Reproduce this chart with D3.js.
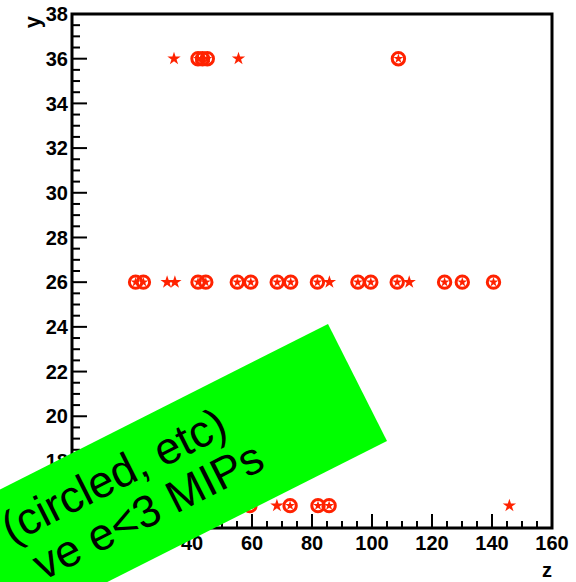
<!DOCTYPE html>
<html><head><meta charset="utf-8">
<script src="https://cdn.jsdelivr.net/npm/d3@7"></script>
<style>html,body{margin:0;padding:0;background:#fff;}svg{display:block;}</style>
</head><body>
<div id="chart"></div>
<script>
// ---- data ----
const xDomain = [0, 160];
const yDomain = [15, 38];
const xMajorTicks = [0, 20, 40, 60, 80, 100, 120, 140, 160];
const yMajorTicks = [16, 18, 20, 22, 24, 26, 28, 30, 32, 34, 36, 38];
const xLabel = "z";
const yLabel = "y";
// hits at y = 36
const row36Y = 36;
const row36Stars = [34.0, 55.5];
const row36Circled = [42.0, 43.5, 45.1, 108.8];
// hits at y = 26
const row26Y = 26;
const row26Stars = [31.7, 34.3, 85.8, 112.4];
const row26Circled = [21.2, 23.8, 42.0, 44.6, 55.1, 59.6, 68.4, 72.9, 81.8, 95.3, 99.6, 108.4, 124.2, 130.1, 140.5];
// hits at y = 16
const row16Y = 16;
const row16Stars = [68.3, 145.8];
const row16Circled = [59.3, 72.7, 82.0, 85.7];
const noteLines = ["(circled, etc)", "ve e<3 MIPs"];

// ---- layout ----
const W = 576, H = 582;
const mLeft = 72, mRight = 552, mTop = 14, mBottom = 528;
const red = "#ff2200";
const svg = d3.select("#chart").append("svg").attr("width", W).attr("height", H);

const x = d3.scaleLinear().domain(xDomain).range([mLeft, mRight]);
const y = d3.scaleLinear().domain(yDomain).range([mBottom, mTop]);

const xMinor = d3.range(xDomain[0], xDomain[1] + 0.01, 5);
const yMinor = d3.range(15.5, 38.01, 0.5);

const g = svg.append("g");
g.selectAll("line.xmin").data(xMinor).join("line")
  .attr("x1", d => x(d)).attr("x2", d => x(d))
  .attr("y1", mBottom).attr("y2", d => xMajorTicks.includes(d) ? mBottom - 14 : mBottom - 7)
  .attr("stroke", "#000").attr("stroke-width", 2);
g.selectAll("line.ymin").data(yMinor).join("line")
  .attr("y1", d => y(d)).attr("y2", d => y(d))
  .attr("x1", mLeft).attr("x2", d => yMajorTicks.includes(d) ? mLeft + 15 : mLeft + 8)
  .attr("stroke", "#000").attr("stroke-width", 2);

svg.append("rect").attr("x", mLeft).attr("y", mTop).attr("width", mRight - mLeft).attr("height", mBottom - mTop)
  .attr("fill", "none").attr("stroke", "#000").attr("stroke-width", 3);

svg.selectAll("text.xl").data(xMajorTicks).join("text")
  .attr("x", d => x(d)).attr("y", mBottom + 22)
  .attr("text-anchor", "middle")
  .attr("font-family", "Liberation Sans, Arial, sans-serif").attr("font-weight", "bold").attr("font-size", 20)
  .text(d => d);
svg.selectAll("text.yl").data(yMajorTicks).join("text")
  .attr("x", mLeft - 4).attr("y", d => y(d)).attr("dy", "0.36em")
  .attr("text-anchor", "end")
  .attr("font-family", "Liberation Sans, Arial, sans-serif").attr("font-weight", "bold").attr("font-size", 20)
  .text(d => d);
svg.append("text").attr("x", mRight).attr("y", 577).attr("text-anchor", "end")
  .attr("font-family", "Liberation Sans, Arial, sans-serif").attr("font-weight", "bold").attr("font-size", 20)
  .text(xLabel);
svg.append("text").attr("transform", `translate(40,${mTop + 2}) rotate(-90)`).attr("text-anchor", "end")
  .attr("font-family", "Liberation Sans, Arial, sans-serif").attr("font-weight", "bold").attr("font-size", 22)
  .text(yLabel);

function starPath(R) {
  const r = R * 0.382, pts = [];
  for (let i = 0; i < 10; i++) {
    const a = -Math.PI / 2 + i * Math.PI / 5;
    const rr = i % 2 === 0 ? R : r;
    pts.push([rr * Math.cos(a), rr * Math.sin(a)]);
  }
  return "M" + pts.map(p => p.join(",")).join("L") + "Z";
}

const rows = [
  {yv: row36Y, stars: row36Stars, circled: row36Circled},
  {yv: row26Y, stars: row26Stars, circled: row26Circled},
  {yv: row16Y, stars: row16Stars, circled: row16Circled}
];
const mk = svg.append("g");
rows.forEach(r => {
  mk.append("g").selectAll("path").data(r.stars).join("path")
    .attr("transform", d => `translate(${x(d)},${y(r.yv)})`)
    .attr("d", starPath(7)).attr("fill", red);
  const c = mk.append("g").selectAll("g").data(r.circled).join("g")
    .attr("transform", d => `translate(${x(d)},${y(r.yv)})`);
  c.append("circle").attr("r", 6.2).attr("fill", "none").attr("stroke", red).attr("stroke-width", 3);
  c.append("path").attr("d", starPath(5.2)).attr("fill", red);
});

const ang = Math.atan2(-59, 117) * 180 / Math.PI;
const note = svg.append("g").attr("transform", `translate(328,324) rotate(${ang})`);
note.append("rect").attr("x", -900).attr("y", 0).attr("width", 900).attr("height", 131).attr("fill", "#00ff00");
note.selectAll("text").data(noteLines).join("text")
  .attr("x", (d, i) => i === 0 ? -137 : -119)
  .attr("y", (d, i) => i === 0 ? 54 : 101)
  .attr("text-anchor", "end")
  .attr("font-family", "Liberation Sans, Arial, sans-serif").attr("font-size", 45)
  .attr("fill", "#000")
  .text(d => d);
</script>
</body></html>
